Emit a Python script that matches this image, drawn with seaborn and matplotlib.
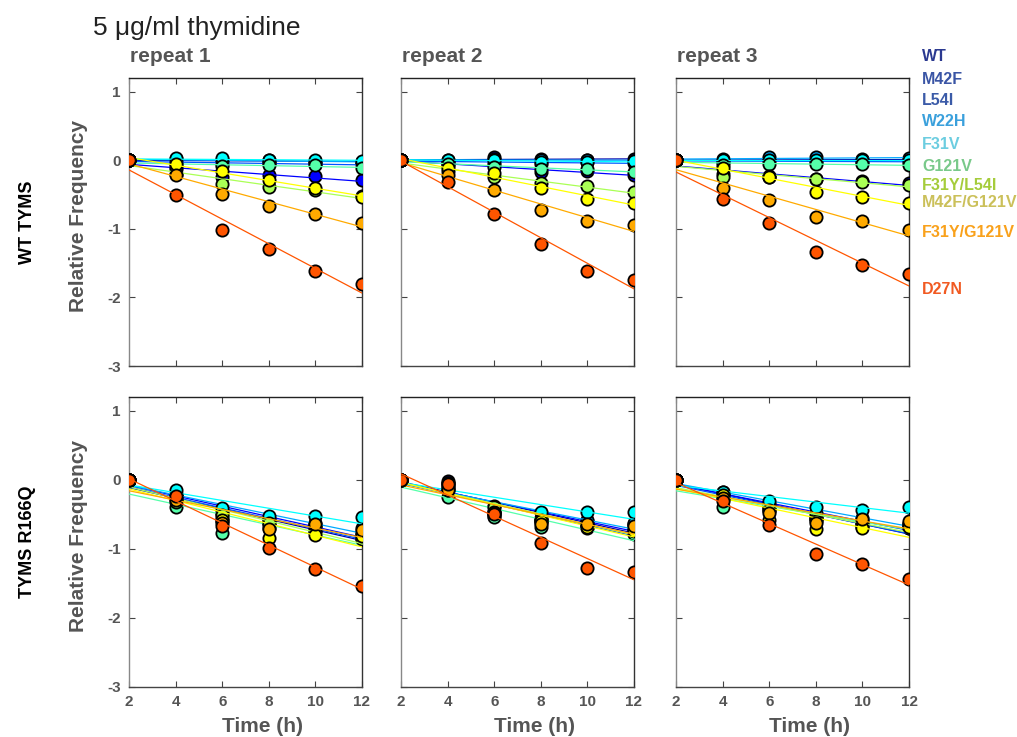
import numpy as np
import pandas as pd
import matplotlib
matplotlib.use("Agg")
import matplotlib.pyplot as plt
import seaborn as sns

# ---- data ---------------------------------------------------------------
time_h = [2, 4, 6, 8, 10, 12]
variants = ["WT", "M42F", "L54I", "W22H", "F31V", "G121V",
            "F31Y/L54I", "M42F/G121V", "F31Y/G121V", "D27N"]
backgrounds = ["WT TYMS", "TYMS R166Q"]
repeats = ["repeat 1", "repeat 2", "repeat 3"]

# relative frequency per variant (rows follow `variants`), one block per panel
wt_rep1 = [
    [0, -0.02, 0.00, 0.01, -0.01, -0.03],
    [0, -0.12, -0.25, -0.21, -0.23, -0.29],
    [0, -0.04, -0.05, -0.04, -0.06, -0.06],
    [0, 0.02, 0.01, -0.02, -0.02, -0.02],
    [0, 0.03, 0.03, 0.00, 0.01, -0.01],
    [0, -0.10, -0.08, -0.07, -0.07, -0.11],
    [0, -0.20, -0.35, -0.39, -0.44, -0.52],
    [0, -0.05, -0.15, -0.29, -0.41, -0.54],
    [0, -0.22, -0.49, -0.66, -0.78, -0.92],
    [0, -0.51, -1.02, -1.29, -1.61, -1.80],
]
wt_rep2 = [
    [0, -0.01, 0.05, 0.02, 0.00, 0.02],
    [0, -0.07, -0.07, -0.17, -0.16, -0.22],
    [0, -0.03, -0.02, -0.05, -0.03, -0.04],
    [0, 0.00, 0.02, 0.00, 0.01, -0.01],
    [0, 0.01, 0.01, -0.03, -0.03, -0.01],
    [0, -0.06, -0.10, -0.12, -0.12, -0.17],
    [0, -0.15, -0.24, -0.33, -0.38, -0.46],
    [0, -0.11, -0.18, -0.41, -0.56, -0.63],
    [0, -0.22, -0.44, -0.73, -0.88, -0.95],
    [0, -0.31, -0.78, -1.22, -1.61, -1.74],
]
wt_rep3 = [
    [0, -0.01, 0.02, 0.02, 0.01, 0.00],
    [0, -0.20, -0.24, -0.28, -0.30, -0.33],
    [0, -0.03, 0.00, -0.02, -0.02, -0.02],
    [0, 0.02, 0.05, 0.05, 0.02, 0.03],
    [0, 0.00, 0.01, 0.01, 0.00, 0.00],
    [0, -0.07, -0.06, -0.05, -0.06, -0.07],
    [0, -0.24, -0.23, -0.28, -0.32, -0.36],
    [0, -0.11, -0.24, -0.46, -0.54, -0.62],
    [0, -0.41, -0.58, -0.83, -0.88, -1.02],
    [0, -0.56, -0.92, -1.34, -1.53, -1.66],
]
r166q_rep1 = [
    [0, -0.25, -0.60, -0.62, -0.70, -0.80],
    [0, -0.22, -0.50, -0.58, -0.68, -0.76],
    [0, -0.24, -0.55, -0.65, -0.66, -0.79],
    [0, -0.20, -0.47, -0.57, -0.62, -0.70],
    [0, -0.14, -0.41, -0.52, -0.52, -0.54],
    [0, -0.40, -0.77, -0.70, -0.74, -0.85],
    [0, -0.32, -0.51, -0.63, -0.76, -0.86],
    [0, -0.28, -0.58, -0.84, -0.80, -0.81],
    [0, -0.29, -0.62, -0.71, -0.64, -0.72],
    [0, -0.23, -0.67, -0.98, -1.29, -1.54],
]
r166q_rep2 = [
    [0, -0.02, -0.50, -0.60, -0.62, -0.66],
    [0, -0.05, -0.48, -0.58, -0.60, -0.64],
    [0, -0.08, -0.52, -0.62, -0.66, -0.70],
    [0, -0.10, -0.45, -0.55, -0.58, -0.62],
    [0, -0.04, -0.38, -0.47, -0.47, -0.47],
    [0, -0.25, -0.54, -0.68, -0.70, -0.79],
    [0, -0.15, -0.40, -0.58, -0.66, -0.72],
    [0, -0.12, -0.46, -0.60, -0.68, -0.74],
    [0, -0.15, -0.48, -0.64, -0.64, -0.67],
    [0, -0.06, -0.50, -0.91, -1.27, -1.34],
]
r166q_rep3 = [
    [0, -0.20, -0.40, -0.55, -0.68, -0.70],
    [0, -0.22, -0.38, -0.52, -0.62, -0.66],
    [0, -0.24, -0.42, -0.56, -0.66, -0.70],
    [0, -0.18, -0.35, -0.48, -0.55, -0.62],
    [0, -0.17, -0.31, -0.39, -0.43, -0.39],
    [0, -0.39, -0.45, -0.56, -0.60, -0.64],
    [0, -0.28, -0.44, -0.60, -0.64, -0.66],
    [0, -0.22, -0.58, -0.71, -0.69, -0.68],
    [0, -0.26, -0.48, -0.63, -0.57, -0.59],
    [0, -0.30, -0.66, -1.07, -1.22, -1.44],
]
panels = [[wt_rep1, wt_rep2, wt_rep3], [r166q_rep1, r166q_rep2, r166q_rep3]]

# ---- styling ------------------------------------------------------------
marker_colors = ["#0000aa", "#0000ff", "#0055ff", "#00aaff", "#00ffff",
                 "#55ffaa", "#aaff55", "#ffff00", "#ffaa00", "#ff5500"]
label_colors = ["#2b3990", "#3a55a5", "#3b5ba8", "#3aa0dc", "#6ccde0",
                "#79c98a", "#a5cc3b", "#cbc05a", "#f9a11b", "#f15a22"]
label_y = [1.52, 1.18, 0.87, 0.56, 0.23, -0.09, -0.365, -0.61, -1.05, -1.89]

sns.set_style("ticks")
plt.rcParams["font.family"] = ["Liberation Sans", "DejaVu Sans"]
plt.rcParams["axes.unicode_minus"] = False

GREY = "#555555"
W, H = 1017, 737
fig = plt.figure(figsize=(W / 100, H / 100), dpi=100)

col_left = [129, 401, 676]
col_width = 233
row_top = [78, 397]
row_height = [288, 290]

records = []
for r, bg in enumerate(backgrounds):
    for c, rep in enumerate(repeats):
        for v, name in enumerate(variants):
            for t, val in zip(time_h, panels[r][c][v]):
                records.append(dict(background=bg, repeat=rep, variant=name,
                                    time=t, freq=val))
df = pd.DataFrame(records)

for r, bg in enumerate(backgrounds):
    for c, rep in enumerate(repeats):
        left = col_left[c] / W
        bottom = 1 - (row_top[r] + row_height[r]) / H
        ax = fig.add_axes([left, bottom, col_width / W, row_height[r] / H])
        sub = df[(df.background == bg) & (df.repeat == rep)]
        for v, name in enumerate(variants):
            d = sub[sub.variant == name]
            sns.regplot(data=d, x="time", y="freq", ax=ax, ci=None,
                        truncate=True, color=marker_colors[v],
                        scatter_kws=dict(s=78, edgecolors="black",
                                         linewidths=1.3, alpha=1, zorder=3),
                        line_kws=dict(lw=0.9, zorder=3))
        ax.set_xlim(2, 12)
        ax.set_ylim(-3, 1.2)
        ax.set_xticks([2, 4, 6, 8, 10, 12])
        ax.set_yticks([-3, -2, -1, 0, 1])
        ax.tick_params(direction="in", length=4, width=0.8, colors="#444444",
                       top=True, right=True, labelsize=11, pad=6)
        for lab in ax.get_xticklabels() + ax.get_yticklabels():
            lab.set_fontweight("bold")
            lab.set_color(GREY)
        ax.set_xlabel("")
        ax.set_ylabel("")
        if r == 0:
            ax.set_xticklabels([])
        else:
            ax.set_xlabel("Time (h)", fontsize=15, fontweight="bold", color=GREY)
            ax.xaxis.set_label_coords(0.573, -0.105)
        if c != 0:
            ax.set_yticklabels([])
        else:
            ax.set_ylabel("Relative Frequency", fontsize=15, fontweight="bold",
                          color=GREY)
            ax.yaxis.set_label_coords(-0.175, 0.52)
        ax.spines["left"].set_color("#888888")
        ax.spines["bottom"].set_color("#444444")
        ax.spines["top"].set_color("#222222")
        ax.spines["right"].set_color("#333333")
        for s in ax.spines.values():
            s.set_linewidth(1.0)
        if r == 0:
            fig.text((col_left[c] + 1) / W, 1 - 57 / H, rep, fontsize=15,
                     fontweight="bold", color=GREY, ha="left", va="center")
        if r == 0 and c == 2:
            for v, name in enumerate(variants):
                ax.annotate(name, xy=(1.056, label_y[v]),
                            xycoords=("axes fraction", "data"),
                            fontsize=11.5, fontweight="bold",
                            color=label_colors[v], ha="left", va="center",
                            annotation_clip=False)

# row titles and figure heading
fig.text(28 / W, 1 - 222 / H, backgrounds[0], rotation=90, fontsize=13,
         fontweight="bold", color="black", ha="center", va="center")
fig.text(28 / W, 1 - 542 / H, backgrounds[1], rotation=90, fontsize=13,
         fontweight="bold", color="black", ha="center", va="center")
fig.text(93 / W, 1 - 28 / H, "5 \u03bcg/ml thymidine", fontsize=19,
         color="#222222", ha="left", va="center")

fig.savefig("out.png", dpi=100)
